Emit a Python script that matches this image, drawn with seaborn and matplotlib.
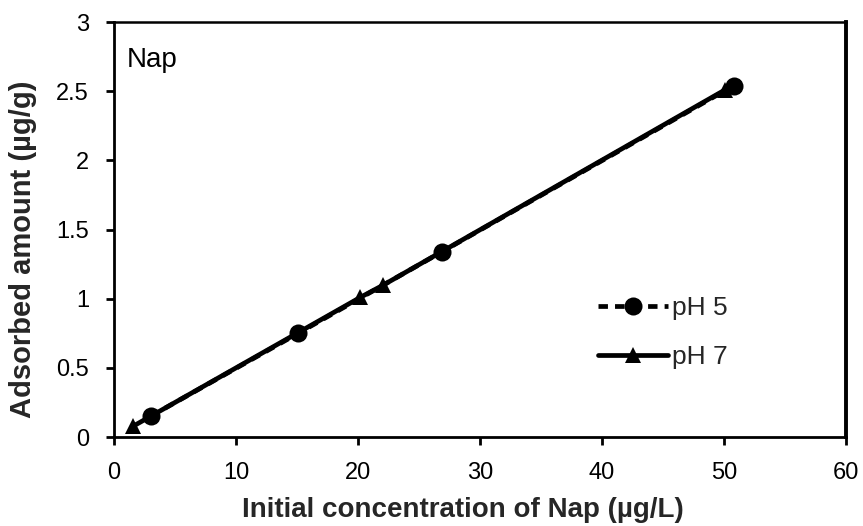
import matplotlib
matplotlib.use("Agg")
import matplotlib.pyplot as plt
import seaborn as sns
import pandas as pd

# Initial concentration (µg/L) and adsorbed amount (µg/g) of naphthalene
conc_ph5 = [3.0, 15.1, 26.9, 50.8]
ads_ph5 = [0.15, 0.75, 1.34, 2.54]
conc_ph7 = [1.6, 20.2, 22.1, 50.1]
ads_ph7 = [0.08, 1.01, 1.10, 2.51]
series_labels = ["pH 5", "pH 7"]
x_ticks = [0, 10, 20, 30, 40, 50, 60]
y_ticks = [0, 0.5, 1, 1.5, 2, 2.5, 3]

df = pd.concat([
    pd.DataFrame({"conc": conc_ph5, "ads": ads_ph5, "pH": series_labels[0]}),
    pd.DataFrame({"conc": conc_ph7, "ads": ads_ph7, "pH": series_labels[1]}),
])

sns.set_theme(style="ticks")
plt.rcParams["font.family"] = ["Liberation Sans", "DejaVu Sans"]

fig = plt.figure(figsize=(8.63, 5.26), dpi=100)
ax = fig.add_axes([0.132, 0.169, 0.848, 0.789])

sns.lineplot(data=df[df["pH"] == series_labels[0]], x="conc", y="ads", ax=ax,
             color="black", linestyle=(0, (2, 1.5)), linewidth=3.4,
             marker="o", markersize=13, markeredgewidth=0,
             label=series_labels[0], sort=True, errorbar=None)
sns.lineplot(data=df[df["pH"] == series_labels[1]], x="conc", y="ads", ax=ax,
             color="black", linestyle="-", linewidth=3.4,
             marker="^", markersize=12, markeredgewidth=0,
             label=series_labels[1], sort=True, errorbar=None)

ax.set_xlim(0, 60)
ax.set_ylim(0, 3)
ax.set_xticks(x_ticks)
ax.set_yticks(y_ticks)
ax.set_xticklabels([str(t) for t in x_ticks])
ax.set_yticklabels([f"{t:g}" for t in y_ticks])
ax.tick_params(axis="both", direction="out", length=6, width=2,
               labelsize=17, color="black", labelcolor="black")
ax.tick_params(axis="x", pad=12)
ax.tick_params(axis="y", pad=12)

for side, lw in {"left": 2, "bottom": 2, "top": 1.8, "right": 2.8}.items():
    ax.spines[side].set_visible(True)
    ax.spines[side].set_color("black")
    ax.spines[side].set_linewidth(lw)

ax.set_xlabel("Initial concentration of Nap (µg/L)", fontsize=20,
              fontweight="bold")
ax.xaxis.set_label_coords(0.477, -0.193)
ax.xaxis.label.set_va("baseline")
ax.set_ylabel("Adsorbed amount (µg/g)", fontsize=21,
              fontweight="bold")
ax.yaxis.set_label_coords(-0.105, 0.453)

ax.text(0.017, 0.8916, "Nap", transform=ax.transAxes, fontsize=20,
        ha="left", va="baseline", color="black")

leg = ax.legend(loc="upper left", bbox_to_anchor=(0.661, 0.34),
                frameon=False, fontsize=19, handlelength=2.65,
                handletextpad=0.15, labelspacing=0.95, borderpad=0,
                borderaxespad=0)
for line in leg.get_lines():
    line.set_linewidth(3.4)

ax.set_facecolor("white")
fig.patch.set_facecolor("white")
fig.savefig("out.png", dpi=100)
